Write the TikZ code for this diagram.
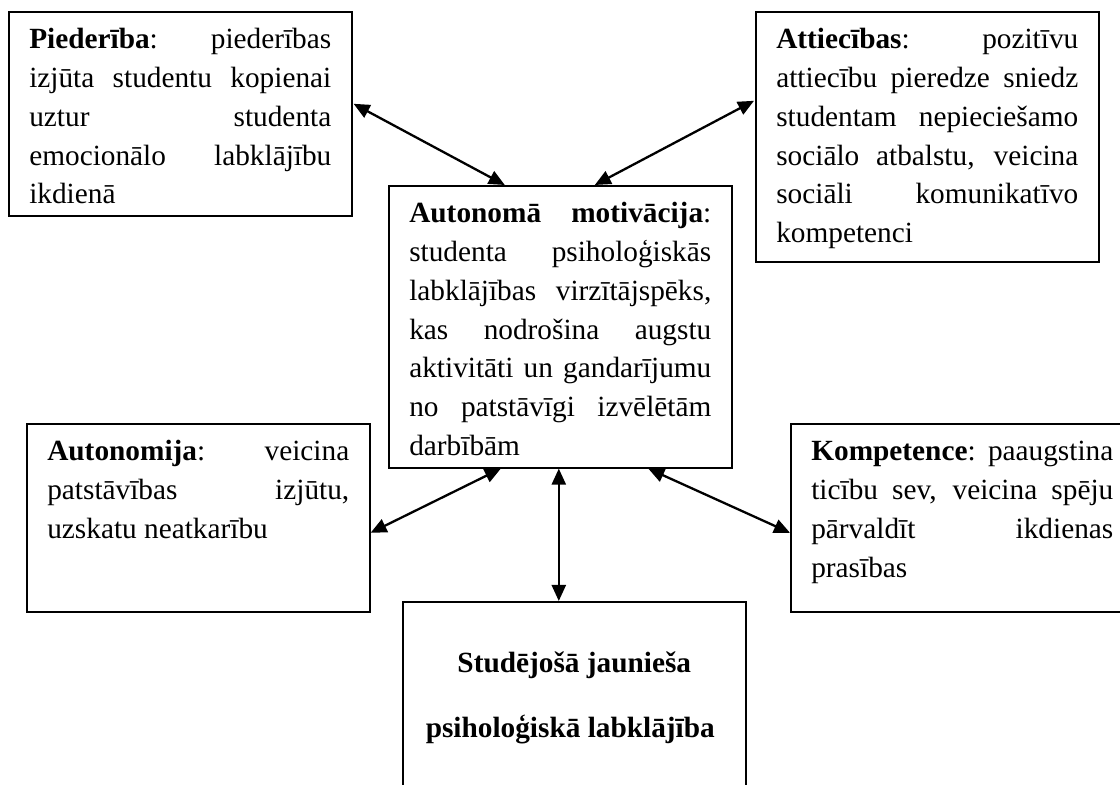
\documentclass[tikz,border=0pt]{standalone}
\usepackage{fontspec}
\setmainfont{Liberation Serif}
\usetikzlibrary{arrows.meta,calc}

\newcommand{\jline}[1]{\makebox[\linewidth][s]{#1}\\}
\newcommand{\boxtext}[2]{\parbox[c][#1][t]{151pt}{\vspace*{4.94pt}\strut #2}}

\begin{document}
\begin{tikzpicture}[x=0.5pt,y=-0.5pt,
  box/.style={draw, line width=0.8pt, anchor=north west, inner xsep=10.25pt, inner ysep=0pt,
    font=\fontsize{14.65pt}{19.375pt}\selectfont},
  link/.style={{Triangle[length=8pt,width=7pt]}-{Triangle[length=8pt,width=7pt]}, line width=1.15pt}]
\useasboundingbox (0,0) rectangle (1120,785);
\clip (0,0) rectangle (1120,785);

\node[box] (pied) at (8,11) {\boxtext{102pt}{\jline{\textbf{Piederība}: piederības}\jline{izjūta studentu kopienai}\jline{uztur studenta}\jline{emocionālo labklājību}ikdienā}};
\node[box] (attiec) at (755,11) {\boxtext{125pt}{\jline{\textbf{Attiecības}: pozitīvu}\jline{attiecību pieredze sniedz}\jline{studentam nepieciešamo}\jline{sociālo atbalstu, veicina}\jline{sociāli komunikatīvo}kompetenci}};
\node[box] (motiv) at (388,185) {\boxtext{141pt}{\jline{\textbf{Autonomā motivācija}:}\jline{studenta psiholoģiskās}\jline{labklājības virzītājspēks,}\jline{kas nodrošina augstu}\jline{aktivitāti un gandarījumu}\jline{no patstāvīgi izvēlētām}darbībām}};
\node[box] (autonom) at (26,423) {\boxtext{94pt}{\jline{\textbf{Autonomija}: veicina}\jline{patstāvības izjūtu,}uzskatu neatkarību}};
\node[box] (kompet) at (790,423) {\boxtext{94pt}{\jline{\textbf{Kompetence}: paaugstina}\jline{ticību sev, veicina spēju}\jline{pārvaldīt ikdienas}prasības}};
\node[box] (labkl) at (402,601) {\parbox[c][100pt][t]{151pt}{\centering\vspace*{21.94pt}\strut\textbf{Studējošā jaunieša}\hspace*{4pt}\\[13.1pt]\textbf{psiholoģiskā labklājība}\hspace*{4pt}}};

\draw[link] ($(pied.east)+(1,-10)$) -- ($(motiv.north)+(-55.5,0)$);
\draw[link] ($(attiec.west)+(-1,-36)$) -- ($(motiv.north)+(34.5,0)$);
\draw[link] ($(autonom.east)+(0,15)$) -- ($(motiv.south)+(-59.5,0)$);
\draw[link] ($(motiv.south)+(-1.5,0)$) -- ($(motiv.south |- labkl.north)+(-1.5,0)$);
\draw[link] ($(motiv.south)+(88,0)$) -- ($(kompet.west)+(0,15)$);
\end{tikzpicture}
\end{document}
